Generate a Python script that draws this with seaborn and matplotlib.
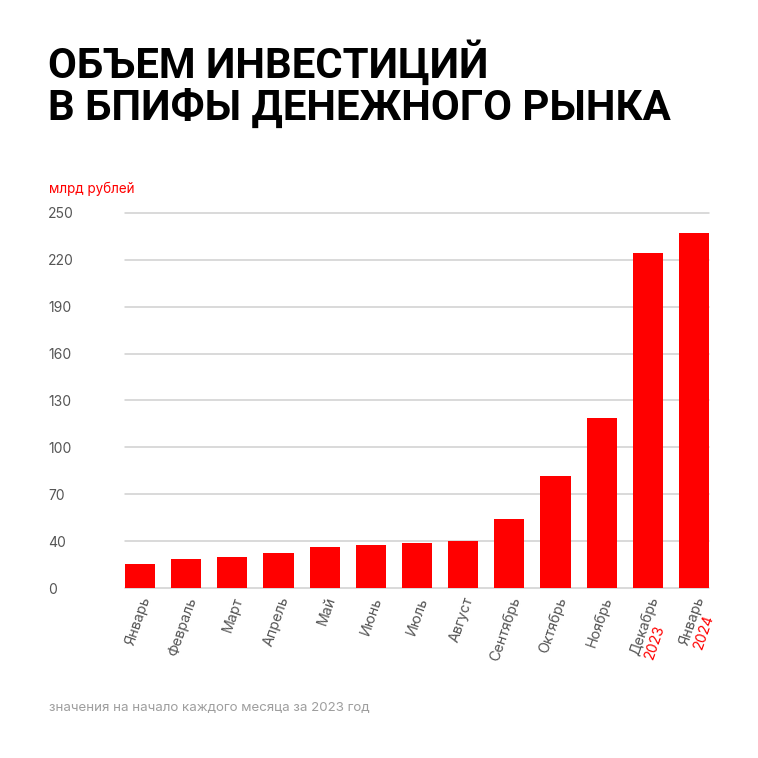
import numpy as np
import pandas as pd
import matplotlib
matplotlib.use("Agg")
import matplotlib.pyplot as plt
import seaborn as sns
from matplotlib.textpath import TextPath
from matplotlib.font_manager import FontProperties
from matplotlib.transforms import ScaledTranslation

months = ["Январь", "Февраль", "Март", "Апрель", "Май", "Июнь", "Июль",
          "Август", "Сентябрь", "Октябрь", "Ноябрь", "Декабрь", "Январь "]
years = {11: "2023", 12: "2024"}
values = [20.7, 24.7, 26.6, 29.8, 34.6, 36.9, 38.3, 39.7, 53.9, 81.7, 119.0, 224.3, 237.4]
yticks = [0, 40, 70, 100, 130, 160, 190, 220, 250]

title_lines = ["ОБЪЕМ ИНВЕСТИЦИЙ", "В БПИФЫ ДЕНЕЖНОГО РЫНКА"]
unit_label = "млрд рублей"
footnote = "значения на начало каждого месяца за 2023 год"

RED = "#FF0000"
GRAY = "#555555"
TFONT = "Roboto"
FONT = "Inter"

sns.set_theme(style="white")
plt.rcParams["font.family"] = [FONT, "DejaVu Sans"]

fig = plt.figure(figsize=(7.58, 7.58), dpi=100)
ax = fig.add_axes([125 / 758, 1 - 588 / 758, 584 / 758, 375 / 758])

df = pd.DataFrame({"month": [f"{m}_{i}" for i, m in enumerate(months)], "value": values})
sns.barplot(data=df, x="month", y="value", color=RED, saturation=1, width=0.65, ax=ax,
            edgecolor="none")

def fwd(v):
    v = np.asarray(v, dtype=float)
    return np.where(v <= 40, v / 40.0, 1 + (v - 40) / 30.0)

def inv(p):
    p = np.asarray(p, dtype=float)
    return np.where(p <= 1, p * 40.0, 40 + (p - 1) * 30.0)

ax.set_yscale("function", functions=(fwd, inv))
ax.set_ylim(0, 250)
ax.set_xlim(-0.325, len(months) - 1 + 0.325)
ax.set_yticks(yticks)
ax.set_yticklabels([str(t) for t in yticks])
ax.yaxis.grid(True, color="#cfcfcf", linewidth=1.1)
ax.set_axisbelow(True)
for g in ax.get_ygridlines():
    g.set_clip_on(False)
for s in ax.spines.values():
    s.set_visible(False)
ax.set_xlabel("")
ax.set_ylabel("")
ax.tick_params(axis="y", length=0, pad=55.5, labelsize=10, labelcolor=GRAY)
for lab in ax.get_yticklabels():
    lab.set_ha("left")

ROT = 71
FS = 10.3
PAD = 5
ax.set_xticks(range(len(months)))
ax.set_xticklabels([m.strip() for m in months], rotation=ROT, ha="right", va="top",
                   rotation_mode="anchor", fontsize=FS, color=GRAY)
ax.tick_params(axis="x", length=0, pad=PAD)

# year sub-labels in red, left-aligned under the month label (rotated frame)
fp = FontProperties(family=FONT, size=FS)
th = np.deg2rad(ROT)
line_pts = 10.6
for i, yr in years.items():
    w = TextPath((0, 0), months[i].strip(), prop=fp).get_extents().width
    dx = -w * np.cos(th) + line_pts * np.sin(th)
    dy = -w * np.sin(th) - line_pts * np.cos(th) - PAD
    tr = ax.get_xaxis_transform() + ScaledTranslation(dx / 72, dy / 72, fig.dpi_scale_trans)
    ax.text(i, 0, yr, transform=tr, rotation=ROT, rotation_mode="anchor", ha="left",
            va="top", fontsize=FS, color=RED)

fig.text(48 / 758, 1 - 78 / 758, title_lines[0], fontsize=30.2, fontweight="bold",
         color="black", va="baseline", ha="left", fontfamily=TFONT)
fig.text(48 / 758, 1 - 120 / 758, title_lines[1], fontsize=30.2, fontweight="bold",
         color="black", va="baseline", ha="left", fontfamily=TFONT)
fig.text(49 / 758, 1 - 193 / 758, unit_label, fontsize=9.7, color=RED, va="baseline",
         ha="left")
fig.text(49 / 758, 1 - 711 / 758, footnote, fontsize=9.6, color="#9e9e9e", va="baseline",
         ha="left")

fig.savefig("out.png", dpi=100, facecolor="white")
